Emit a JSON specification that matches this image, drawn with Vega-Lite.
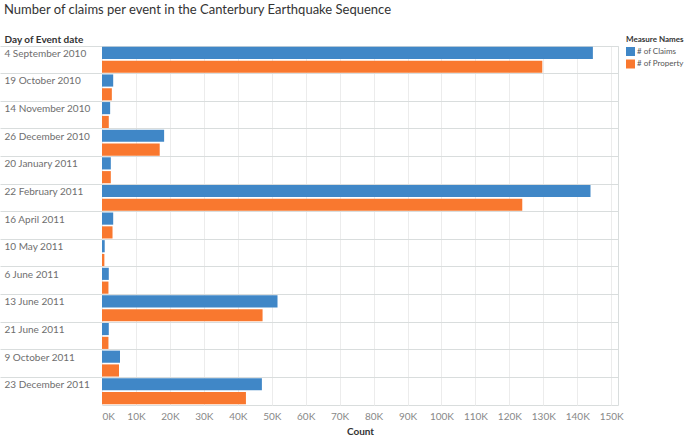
{
  "$schema": "https://vega.github.io/schema/vega-lite/v6.json",
  "autosize": {"type": "none"},
  "width": 516,
  "height": 359,
  "padding": {"left": 102, "top": 46, "right": 67, "bottom": 32},
  "background": "white",
  "title": {
    "text": "Number of claims per event in the Canterbury Earthquake Sequence",
    "anchor": "start",
    "frame": "group",
    "dx": -98,
    "dy": -13,
    "fontSize": 13,
    "fontWeight": "normal",
    "color": "#333333",
    "font": "Lato"
  },
  "data": {
    "values": [
      {"date": "4 September 2010", "measure": "# of Claims", "count": 144600},
      {"date": "4 September 2010", "measure": "# of Property", "count": 129700},
      {"date": "19 October 2010", "measure": "# of Claims", "count": 3300},
      {"date": "19 October 2010", "measure": "# of Property", "count": 2900},
      {"date": "14 November 2010", "measure": "# of Claims", "count": 2400},
      {"date": "14 November 2010", "measure": "# of Property", "count": 2000},
      {"date": "26 December 2010", "measure": "# of Claims", "count": 18300},
      {"date": "26 December 2010", "measure": "# of Property", "count": 17000},
      {"date": "20 January 2011", "measure": "# of Claims", "count": 2600},
      {"date": "20 January 2011", "measure": "# of Property", "count": 2600},
      {"date": "22 February 2011", "measure": "# of Claims", "count": 143900},
      {"date": "22 February 2011", "measure": "# of Property", "count": 123800},
      {"date": "16 April 2011", "measure": "# of Claims", "count": 3300},
      {"date": "16 April 2011", "measure": "# of Property", "count": 3100},
      {"date": "10 May 2011", "measure": "# of Claims", "count": 800},
      {"date": "10 May 2011", "measure": "# of Property", "count": 700},
      {"date": "6 June 2011", "measure": "# of Claims", "count": 2000},
      {"date": "6 June 2011", "measure": "# of Property", "count": 1900},
      {"date": "13 June 2011", "measure": "# of Claims", "count": 51700},
      {"date": "13 June 2011", "measure": "# of Property", "count": 47300},
      {"date": "21 June 2011", "measure": "# of Claims", "count": 2000},
      {"date": "21 June 2011", "measure": "# of Property", "count": 1900},
      {"date": "9 October 2011", "measure": "# of Claims", "count": 5300},
      {"date": "9 October 2011", "measure": "# of Property", "count": 5000},
      {"date": "23 December 2011", "measure": "# of Claims", "count": 47100},
      {"date": "23 December 2011", "measure": "# of Property", "count": 42400}
    ]
  },
  "mark": {"type": "bar"},
  "encoding": {
    "y": {
      "field": "date",
      "type": "nominal",
      "sort": null,
      "scale": {"paddingInner": 0, "paddingOuter": 0},
      "axis": {
        "title": "Day of Event date",
        "bandPosition": 0,
        "ticks": true,
        "tickSize": 102,
        "tickColor": "#d9dddd",
        "domain": false,
        "grid": true,
        "gridColor": "#d9dddd",
        "labelAlign": "left",
        "labelBaseline": "top",
        "labelPadding": -4,
        "labelOffset": -11,
        "labelFontSize": 10,
        "labelColor": "#6e6e6e",
        "labelLimit": 0,
        "titleAngle": 0,
        "titleAlign": "left",
        "titleBaseline": "bottom",
        "titleX": -98,
        "titleY": -2,
        "titleFontSize": 10,
        "titleFontWeight": "bold",
        "titleColor": "#333333"
      }
    },
    "yOffset": {
      "field": "measure",
      "type": "nominal",
      "scale": {"paddingInner": 0.12, "paddingOuter": 0.06}
    },
    "x": {
      "field": "count",
      "type": "quantitative",
      "scale": {"domain": [0, 152000], "nice": false},
      "axis": {
        "title": "Count",
        "values": [0, 10000, 20000, 30000, 40000, 50000, 60000, 70000, 80000, 90000, 100000, 110000, 120000, 130000, 140000, 150000],
        "labelExpr": "(datum.value/1000) + 'K'",
        "labelOverlap": false,
        "domain": false,
        "ticks": false,
        "grid": true,
        "gridColor": "#ececec",
        "labelColor": "#888888",
        "labelFontSize": 10,
        "labelPadding": 6,
        "titleFontSize": 10,
        "titleFontWeight": "bold",
        "titleColor": "#333333",
        "titlePadding": 5
      }
    },
    "color": {
      "field": "measure",
      "type": "nominal",
      "scale": {"range": ["#4087c7", "#f9782f"]},
      "legend": {
        "title": "Measure Names",
        "orient": "none",
        "legendX": 524,
        "legendY": -10,
        "symbolType": "square",
        "symbolSize": 81,
        "symbolStrokeWidth": 0,
        "symbolOffset": 0,
        "titleFontSize": 8,
        "titleFontWeight": "bold",
        "titleColor": "#333333",
        "titlePadding": 3,
        "labelFontSize": 8,
        "labelOffset": 2,
        "labelColor": "#555555",
        "rowPadding": 3.5
      }
    }
  },
  "config": {
    "font": "Lato",
    "view": {"stroke": "#d9dddd"}
  }
}
